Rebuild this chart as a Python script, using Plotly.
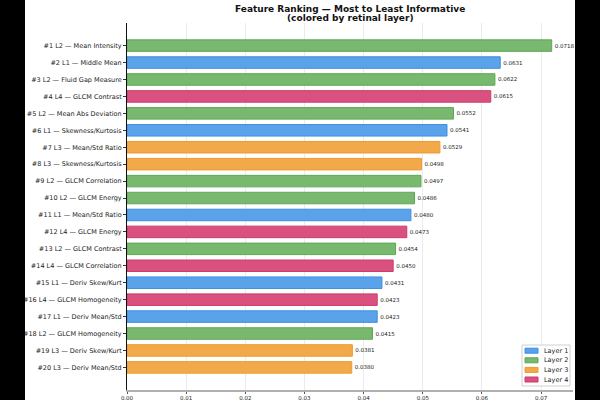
import plotly.graph_objects as go

labels = [
    "#1 L2 — Mean Intensity", "#2 L1 — Middle Mean", "#3 L2 — Fluid Gap Measure",
    "#4 L4 — GLCM Contrast", "#5 L2 — Mean Abs Deviation", "#6 L1 — Skewness/Kurtosis",
    "#7 L3 — Mean/Std Ratio", "#8 L3 — Skewness/Kurtosis", "#9 L2 — GLCM Correlation",
    "#10 L2 — GLCM Energy", "#11 L1 — Mean/Std Ratio", "#12 L4 — GLCM Energy",
    "#13 L2 — GLCM Contrast", "#14 L4 — GLCM Correlation", "#15 L1 — Deriv Skew/Kurt",
    "#16 L4 — GLCM Homogeneity", "#17 L1 — Deriv Mean/Std", "#18 L2 — GLCM Homogeneity",
    "#19 L3 — Deriv Skew/Kurt", "#20 L3 — Deriv Mean/Std",
]
layers = [2, 1, 2, 4, 2, 1, 3, 3, 2, 2, 1, 4, 2, 4, 1, 4, 1, 2, 3, 3]
values = [0.0718, 0.0631, 0.0622, 0.0615, 0.0552, 0.0541, 0.0529, 0.0498, 0.0497, 0.0486,
          0.0480, 0.0473, 0.0454, 0.0450, 0.0431, 0.0423, 0.0423, 0.0415, 0.0381, 0.0380]
layer_names = ["Layer 1", "Layer 2", "Layer 3", "Layer 4"]
fill_colors = ["#5aa2ea", "#78b86f", "#f2a94a", "#d9517e"]
edge_colors = ["#3f8fe0", "#5ea954", "#ef9a2e", "#cf3a6a"]
title_lines = ["Feature Ranking — Most to Least Informative", "(colored by retinal layer)"]

W, H = 600, 400
L, R, T, B = 127, 27, 23, 10
pw = W - L - R
ph = H - T - B
FONT = "DejaVu Sans"

def px_x(p):
    return (p - L) / pw

def px_y(p):
    return 1 - (p - T) / ph

fig = go.Figure()
for k, name in enumerate(layer_names):
    idx = [i for i, l in enumerate(layers) if l == k + 1]
    fig.add_trace(go.Bar(
        y=[labels[i] for i in idx],
        x=[values[i] for i in idx],
        orientation="h",
        name=name,
        width=0.68,
        marker=dict(color=fill_colors[k], line=dict(color=edge_colors[k], width=1)),
        text=[f"{values[i]:.4f}" for i in idx],
        textposition="outside",
        textfont=dict(family=FONT, size=5.5, color="#222"),
        cliponaxis=False,
        hoverinfo="skip",
        showlegend=False,
    ))

xticks = [0.0, 0.01, 0.02, 0.03, 0.04, 0.05, 0.06, 0.07]
fig.update_layout(
    width=W, height=H,
    margin=dict(l=L, r=R, t=T, b=B, autoexpand=False),
    paper_bgcolor="white", plot_bgcolor="white",
    barmode="overlay",
    font=dict(family=FONT, color="#222"),
    xaxis=dict(
        range=[0, 0.0754], tickvals=xticks, ticktext=[f"{v:.2f}" for v in xticks],
        showgrid=True, gridcolor="#ebebeb", gridwidth=1,
        showline=True, linecolor="#b0b0b0", linewidth=1.5,
        ticks="outside", ticklen=2, tickcolor="#555", tickwidth=1,
        tickfont=dict(family=FONT, size=5.5, color="#222"),
        zeroline=False, automargin=False,
    ),
    yaxis=dict(
        categoryorder="array", categoryarray=labels,
        range=[20.335, -1.335],
        showgrid=False,
        showline=True, linecolor="#111", linewidth=1,
        ticks="outside", ticklen=3, tickcolor="#333",
        tickfont=dict(family=FONT, size=6.5, color="#222"),
        zeroline=False, automargin=False,
    ),
    showlegend=False,
)

# title as two bold centred lines
for j, line in enumerate(title_lines):
    fig.add_annotation(
        text=f"<b>{line}</b>", xref="paper", yref="paper",
        x=0.5, y=px_y(8.5 + j * 9.5), xanchor="center", yanchor="middle",
        showarrow=False, font=dict(family=FONT, size=9, color="#111"),
    )

# legend box (lower right, inside the axes)
fig.add_shape(type="rect", xref="paper", yref="paper",
              x0=px_x(522), x1=px_x(570), y0=px_y(386), y1=px_y(345),
              fillcolor="rgba(255,255,255,0.9)", line=dict(color="#d0d0d0", width=1),
              layer="above")
for k, name in enumerate(layer_names):
    cy = 350.7 + k * 9.6
    fig.add_shape(type="rect", xref="paper", yref="paper",
                  x0=px_x(525), x1=px_x(538), y0=px_y(cy + 2.5), y1=px_y(cy - 2.5),
                  fillcolor=fill_colors[k], line=dict(color=edge_colors[k], width=1),
                  layer="above")
    fig.add_annotation(
        text=name, xref="paper", yref="paper",
        x=px_x(542), y=px_y(cy), xanchor="left", yanchor="middle",
        showarrow=False, font=dict(family=FONT, size=6.5, color="#222"),
    )

# black side strips of the photographed page
for a, b in [(0, 25), (575, 600)]:
    fig.add_shape(type="rect", xref="paper", yref="paper",
                  x0=px_x(a), x1=px_x(b), y0=-B / ph - 0.01, y1=1 + T / ph + 0.01,
                  fillcolor="black", line=dict(width=0), layer="above")

fig.write_html("out.html")
